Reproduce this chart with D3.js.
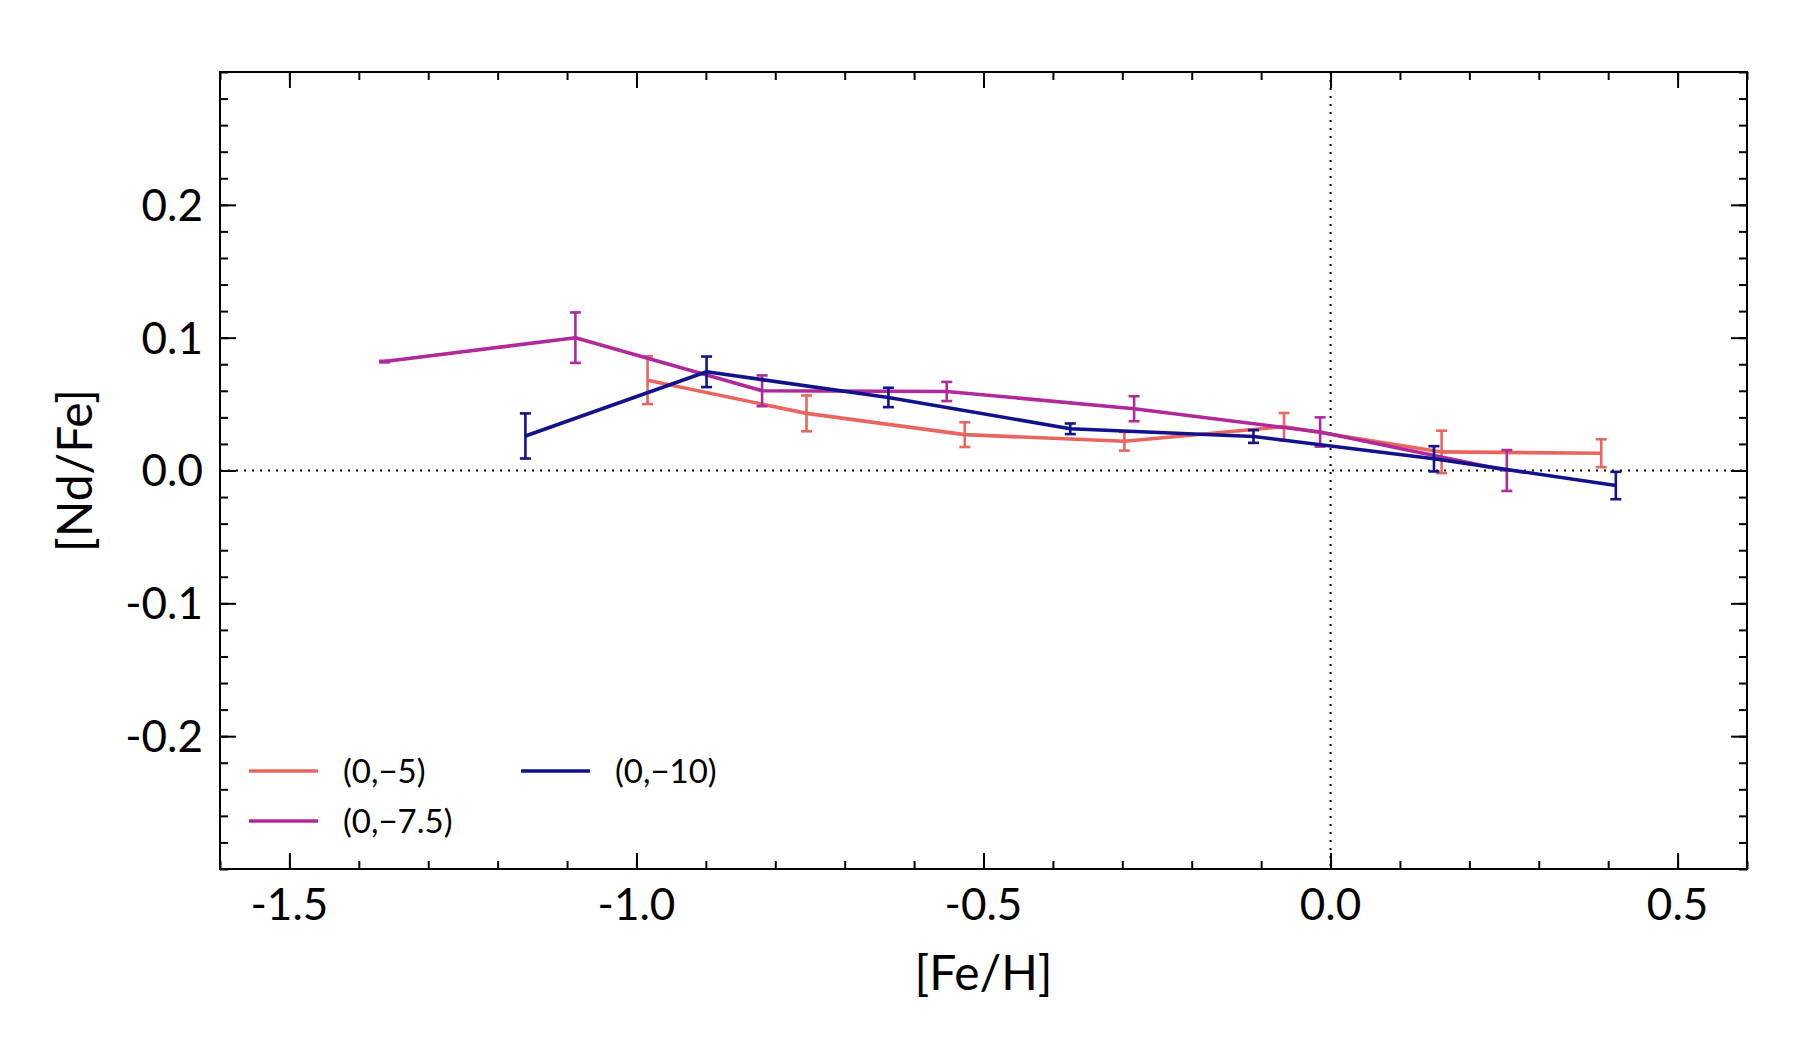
<!DOCTYPE html>
<html>
<head>
<meta charset="utf-8">
<script src="https://cdn.jsdelivr.net/npm/d3@7"></script>
<style>
  html, body { margin: 0; padding: 0; background: #ffffff; }
  svg { display: block; font-family: Lato, 'DejaVu Sans', sans-serif; }
</style>
</head>
<body>
<div id="chart"></div>
<script>
// values
const seriesNames = ['(0,\u22125)', '(0,\u22127.5)', '(0,\u221210)']
const seriesColors = ['#E8665F', '#B0299A', '#12128C']

const feh5 = [-0.984, -0.755, -0.527, -0.297, -0.067, 0.160, 0.390]
const nd5 = [0.068, 0.043, 0.027, 0.022, 0.033, 0.014, 0.013]
const err5 = [0.018, 0.0135, 0.0093, 0.007, 0.0103, 0.016, 0.0105]

const feh75 = [-1.363, -1.088, -0.819, -0.553, -0.283, -0.015, 0.254]
const nd75 = [0.082, 0.100, 0.060, 0.0595, 0.0465, 0.029, 0.000]
const err75 = [0.0006, 0.019, 0.0116, 0.0072, 0.0094, 0.011, 0.0154]

const feh10 = [-1.160, -0.899, -0.637, -0.375, -0.111, 0.149, 0.411]
const nd10 = [0.026, 0.0743, 0.055, 0.0314, 0.0256, 0.0088, -0.0113]
const err10 = [0.017, 0.0115, 0.0073, 0.004, 0.0048, 0.0095, 0.0103]

const xTicks = [-1.5, -1.0, -0.5, 0.0, 0.5]
const yTicks = [-0.2, -0.1, 0.0, 0.1, 0.2]

const W = 1800
const H = 1050
const margin = { left: 220, right: 53, top: 72, bottom: 181 }
const gw = W - margin.left - margin.right
const gh = H - margin.top - margin.bottom

const series = [
  { name: seriesNames[0], color: seriesColors[0], x: feh5, y: nd5, e: err5 },
  { name: seriesNames[1], color: seriesColors[1], x: feh75, y: nd75, e: err75 },
  { name: seriesNames[2], color: seriesColors[2], x: feh10, y: nd10, e: err10 }
]

const svg = d3.select('#chart')
  .append('svg')
  .attr('width', W)
  .attr('height', H)

const g = svg.append('g')
  .attr('transform', `translate(${margin.left}, ${margin.top})`)

const xScale = d3.scaleLinear().domain([-1.6, 0.6]).range([0, gw])
const yScale = d3.scaleLinear().domain([-0.3, 0.3]).range([gh, 0])

// 零线
g.append('line')
  .attr('x1', 0).attr('x2', gw)
  .attr('y1', yScale(0)).attr('y2', yScale(0))
  .style('stroke', '#000').style('stroke-width', 2)
  .style('stroke-dasharray', '2,6')
g.append('line')
  .attr('x1', xScale(0)).attr('x2', xScale(0))
  .attr('y1', 0).attr('y2', gh)
  .style('stroke', '#000').style('stroke-width', 2)
  .style('stroke-dasharray', '2,6')

// 数据线 + 误差棒
const line = d3.line().x(d => xScale(d[0])).y(d => yScale(d[1]))
series.forEach(s => {
  const pts = s.x.map((v, i) => [v, s.y[i], s.e[i]])
  const sg = g.append('g').classed('series', true)
  sg.append('path')
    .datum(pts)
    .attr('d', line)
    .style('fill', 'none')
    .style('stroke', s.color)
    .style('stroke-width', 3.6)
    .style('stroke-linejoin', 'round')
  const eb = sg.selectAll('g.err').data(pts).enter()
    .append('g').classed('err', true)
    .style('stroke', s.color)
    .style('stroke-width', 2.6)
  eb.append('line')
    .attr('x1', d => xScale(d[0])).attr('x2', d => xScale(d[0]))
    .attr('y1', d => yScale(d[1] - d[2])).attr('y2', d => yScale(d[1] + d[2]))
  eb.append('line')
    .attr('x1', d => xScale(d[0]) - 5.5).attr('x2', d => xScale(d[0]) + 5.5)
    .attr('y1', d => yScale(d[1] + d[2])).attr('y2', d => yScale(d[1] + d[2]))
  eb.append('line')
    .attr('x1', d => xScale(d[0]) - 5.5).attr('x2', d => xScale(d[0]) + 5.5)
    .attr('y1', d => yScale(d[1] - d[2])).attr('y2', d => yScale(d[1] - d[2]))
})

// 坐标轴 (ticks inward on all sides)
const xMinor = d3.range(-16, 7).map(v => v / 10)
const yMinor = d3.range(-15, 16).map(v => v / 50)
// plain hyphen for negatives, as in the reference
const fmt = v => d3.format('.1f')(v).replace('\u2212', '-')

function styleAxis(sel) {
  sel.select('.domain').remove()
  sel.selectAll('line').style('stroke', '#000').style('stroke-width', 2)
  sel.selectAll('text').remove()
}

g.append('g').attr('transform', `translate(0, ${gh})`)
  .call(d3.axisBottom(xScale).tickValues(xMinor).tickSize(-8)).call(styleAxis)
g.append('g').attr('transform', `translate(0, ${gh})`)
  .call(d3.axisBottom(xScale).tickValues(xTicks).tickSize(-16)).call(styleAxis)
g.append('g')
  .call(d3.axisTop(xScale).tickValues(xMinor).tickSize(-8)).call(styleAxis)
g.append('g')
  .call(d3.axisTop(xScale).tickValues(xTicks).tickSize(-16)).call(styleAxis)
g.append('g')
  .call(d3.axisLeft(yScale).tickValues(yMinor).tickSize(-8)).call(styleAxis)
g.append('g')
  .call(d3.axisLeft(yScale).tickValues(yTicks).tickSize(-16)).call(styleAxis)
g.append('g').attr('transform', `translate(${gw}, 0)`)
  .call(d3.axisRight(yScale).tickValues(yMinor).tickSize(-8)).call(styleAxis)
g.append('g').attr('transform', `translate(${gw}, 0)`)
  .call(d3.axisRight(yScale).tickValues(yTicks).tickSize(-16)).call(styleAxis)

g.append('rect')
  .attr('x', 0).attr('y', 0).attr('width', gw).attr('height', gh)
  .style('fill', 'none').style('stroke', '#000').style('stroke-width', 2)

// 刻度标签
g.selectAll('text.xlab').data(xTicks).enter()
  .append('text').classed('xlab', true)
  .attr('x', d => xScale(d))
  .attr('y', gh + 51)
  .attr('text-anchor', 'middle')
  .style('font-size', '44px')
  .style('fill', '#000')
  .text(d => fmt(d))

g.selectAll('text.ylab').data(yTicks).enter()
  .append('text').classed('ylab', true)
  .attr('x', -17)
  .attr('y', d => yScale(d))
  .attr('dy', '0.36em')
  .attr('text-anchor', 'end')
  .style('font-size', '44px')
  .style('fill', '#000')
  .text(d => fmt(d))

// 轴标题
g.append('text')
  .attr('x', gw / 2)
  .attr('y', gh + 121)
  .attr('text-anchor', 'middle')
  .style('font-size', '48px')
  .text('[Fe/H]')

g.append('text')
  .attr('transform', `translate(${-128}, ${gh / 2}) rotate(-90)`)
  .attr('text-anchor', 'middle')
  .style('font-size', '48px')
  .text('[Nd/Fe]')

// 图例
const legendPos = [[29, 699], [29, 749], [301, 699]]
series.forEach((s, i) => {
  const lg = g.append('g')
    .attr('transform', `translate(${legendPos[i][0]}, ${legendPos[i][1]})`)
  lg.append('line')
    .attr('x1', 0).attr('x2', 69)
    .attr('y1', 0).attr('y2', 0)
    .style('stroke', s.color).style('stroke-width', 3.4)
  lg.append('text')
    .attr('x', 94)
    .attr('y', 0)
    .attr('dy', '0.36em')
    .style('font-size', '33px')
    .text(s.name)
})
</script>
</body>
</html>
